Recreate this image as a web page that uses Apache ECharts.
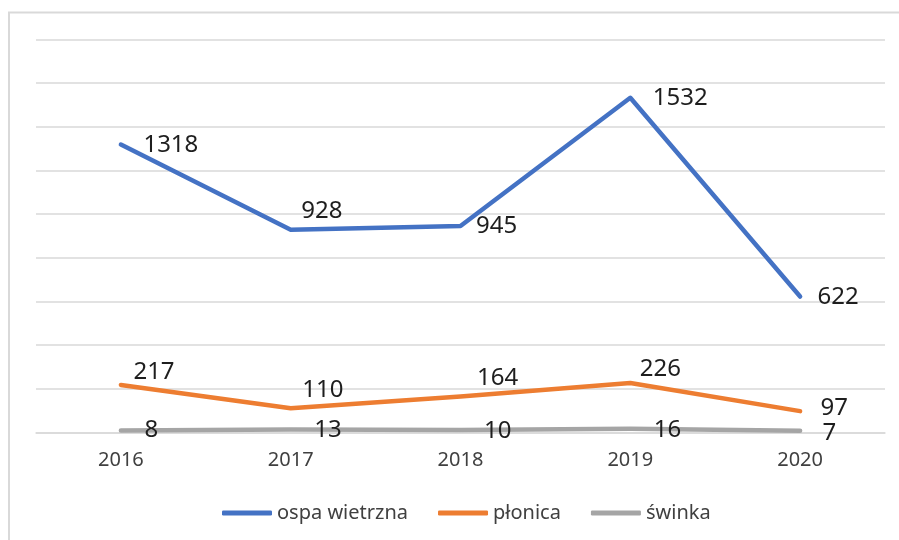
<!DOCTYPE html>
<html>
<head>
<meta charset="utf-8">
<script src="https://cdn.jsdelivr.net/npm/echarts@6/dist/echarts.min.js"></script>
<style>
  html, body { margin: 0; padding: 0; background: #fff; }
  #chart { width: 899px; height: 540px; }
</style>
</head>
<body>
<div id="chart"></div>
<script>
// dane
var lata = ['2016', '2017', '2018', '2019', '2020'];
var ospaWietrzna = [1318, 928, 945, 1532, 622];
var plonica = [217, 110, 164, 226, 97];
var swinka = [8, 13, 10, 16, 7];

var myChart = echarts.init(document.getElementById('chart'));

// przesunięcia etykiet danych [dx, dy] względem punktu
var przesuniecia = {
    ospa: [[22, 1], [10, -19], [15, 0], [22, 0], [17, 1]],
    plonica: [[12, -13], [11, -18], [16, -18], [9, -14], [20, -3]],
    swinka: [[23, 0], [23, 1], [23, 1], [23, 1], [22, 2]]
};

function punkty(values, offsets) {
    return values.map(function (v, i) {
        return { value: v, label: { offset: offsets[i] } };
    });
}

function seria(name, values, offsets, color) {
    return {
        name: name,
        type: 'line',
        data: punkty(values, offsets),
        symbol: 'circle',
        symbolSize: 1,
        showSymbol: true,
        itemStyle: { color: color },
        lineStyle: { color: color, width: 4.5, cap: 'round', join: 'round' },
        label: {
            show: true,
            position: 'right',
            distance: 0,
            fontFamily: 'Noto Sans',
            fontSize: 24,
            color: '#1e1e1e'
        },
        emphasis: { disabled: true },
        animation: false
    };
}

var option = {
    backgroundColor: '#fff',
    graphic: [{
        type: 'rect',
        shape: { x: 9, y: 12.5, width: 900, height: 540 },
        style: { fill: 'none', stroke: '#d9d9d9', lineWidth: 2 },
        silent: true
    }],
    legend: {
        left: 217,
        top: 498,
        itemWidth: 50,
        itemHeight: 5,
        itemGap: 30,
        icon: 'roundRect',
        textStyle: { fontFamily: 'Noto Sans', fontSize: 20, color: '#404040' },
        data: ['ospa wietrzna', 'płonica', 'świnka']
    },
    grid: {
        left: 36,
        right: 14,
        top: 39.3,
        bottom: 107.7
    },
    xAxis: {
        type: 'category',
        data: lata,
        boundaryGap: true,
        axisLine: { show: true, lineStyle: { color: '#d9d9d9', width: 1.5 } },
        axisTick: { show: false },
        axisLabel: {
            margin: 18,
            fontFamily: 'Noto Sans',
            fontSize: 20,
            color: '#404040'
        }
    },
    yAxis: {
        type: 'value',
        min: 0,
        max: 1800,
        interval: 200,
        axisLabel: { show: false },
        axisLine: { show: false },
        axisTick: { show: false },
        splitLine: { show: true, lineStyle: { color: '#d9d9d9', width: 1.5 } }
    },
    series: [
        seria('ospa wietrzna', ospaWietrzna, przesuniecia.ospa, '#4472c4'),
        seria('płonica', plonica, przesuniecia.plonica, '#ed7d31'),
        seria('świnka', swinka, przesuniecia.swinka, '#a5a5a5')
    ]
};
myChart.setOption(option);
</script>
</body>
</html>
